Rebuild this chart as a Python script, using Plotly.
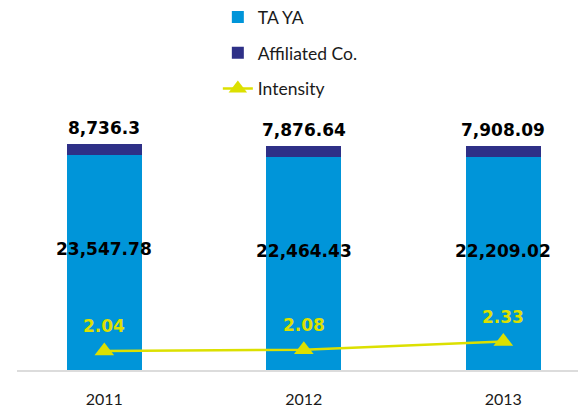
import math
import plotly.graph_objects as go

years = ["2011", "2012", "2013"]
ta_ya = [23547.78, 22464.43, 22209.02]
affiliated = [8736.3, 7876.64, 7908.09]
intensity = [2.04, 2.08, 2.33]

BLUE = "#0095D9"
NAVY = "#2E3087"
YELLOW = "#DCE000"
NUM_FONT = "DejaVu Sans"
TXT_FONT = "Lato"

fig = go.Figure()
fig.add_trace(go.Bar(x=years, y=ta_ya, name="TA YA", marker=dict(color=BLUE, line=dict(width=0)),
                     width=0.376, legendgroup="a", hoverinfo="skip"))
fig.add_trace(go.Bar(x=years, y=affiliated, name="Affiliated Co.", marker=dict(color=NAVY, line=dict(width=0)),
                     width=0.376, legendgroup="b", hoverinfo="skip"))
fig.add_trace(go.Scatter(x=years, y=intensity, name="Intensity", yaxis="y2", mode="lines+markers",
                         line=dict(color=YELLOW, width=2.5),
                         marker=dict(symbol="triangle-up", size=17, color=YELLOW),
                         legendgroup="c", hoverinfo="skip"))

annotations = []
for i, (t, a, it) in enumerate(zip(ta_ya, affiliated, intensity)):
    total = t + a
    annotations.append(dict(x=i, y=math.log10(total), xref="x", yref="y", yanchor="middle",
                            yshift=16, showarrow=False, text=f"<b>{a:,}</b>",
                            font=dict(family=NUM_FONT, size=17, color="black")))
    annotations.append(dict(x=i, y=math.log10(t), xref="x", yref="y", yanchor="middle",
                            yshift=-94, showarrow=False, text=f"<b>{t:,.2f}</b>",
                            font=dict(family=NUM_FONT, size=17, color="black")))
    annotations.append(dict(x=i, y=it, xref="x", yref="y2", yanchor="middle",
                            yshift=25, showarrow=False, text=f"<b>{it:.2f}</b>",
                            font=dict(family=NUM_FONT, size=17, color=YELLOW)))

fig.update_layout(
    width=579, height=410,
    margin=dict(l=17, r=1, t=130, b=40, autoexpand=False),
    barmode="stack",
    plot_bgcolor="white", paper_bgcolor="white",
    showlegend=True,
    legend=dict(x=0.358, y=1.5455, xanchor="left", yanchor="top",
                traceorder="grouped", tracegroupgap=10,
                font=dict(family=TXT_FONT, size=17.5, color="#1A1A1A")),
    xaxis=dict(type="category", range=[-0.4376, 2.3744], showgrid=False, ticks="",
               showline=True, linecolor="#DCDCDC", linewidth=2, ticklabelstandoff=14,
               tickfont=dict(family=TXT_FONT, size=16, color="#1A1A1A"), zeroline=False),
    yaxis=dict(type="log", range=[1.713, 4.679], visible=False, showgrid=False),
    yaxis2=dict(range=[1.461, 8.778], overlaying="y", visible=False, showgrid=False),
    annotations=annotations,
)

fig.write_html("out.html", config={"displayModeBar": False},
               post_script="document.body.style.margin='0';")
